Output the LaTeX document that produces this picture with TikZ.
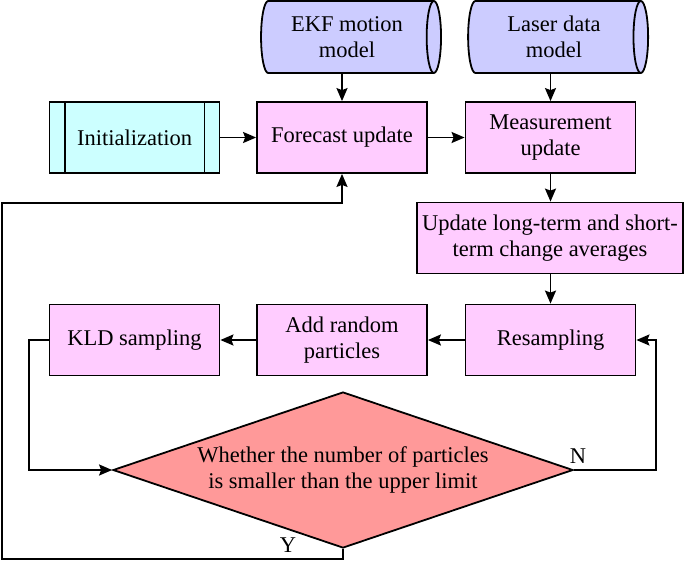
\documentclass[tikz,border=0pt]{standalone}
\usepackage{fontspec}
\setmainfont{Liberation Serif}
\usepackage{tikz}
\usetikzlibrary{arrows.meta,positioning,calc,shapes.geometric}
\definecolor{procpink}{HTML}{FFCCFF}
\definecolor{initcyan}{HTML}{CCFFFF}
\definecolor{dblue}{HTML}{CCCCFF}
\definecolor{decred}{HTML}{FF9999}
\tikzset{
  >={Stealth[length=13pt,width=11pt,inset=2pt]},
  proc/.style={rectangle,draw,fill=procpink,line width=1.8pt,minimum width=170pt,minimum height=71pt,align=center,inner sep=2pt},
  initbox/.style={proc,fill=initcyan},
  db/.style={cylinder,draw,fill=dblue,line width=1.8pt,shape aspect=0.35,minimum width=72pt,minimum height=180pt,align=center,inner sep=0pt},
  dec/.style={diamond,draw,fill=decred,line width=1.8pt,aspect=2.95,minimum width=460pt,minimum height=156pt,inner sep=0pt,align=center},
  tr/.style={->,line width=1.8pt}
}
\begin{document}
\begin{tikzpicture}[x=1pt,y=-1pt,every node/.style={font=\fontsize{22.5}{26}\selectfont}]
    \useasboundingbox (0,0) rectangle (685,560);

    % Data sources
    \node[db] (ekf) at (347,37) {EKF motion\\model};
    \node[db] (laser) at (554,37) {Laser data\\model};

    % Top row
    \node[initbox] (init) at (134.5,137.5) {Initialization};
    \draw[line width=1.8pt] ([xshift=16pt]init.north west) -- ([xshift=16pt]init.south west);
    \draw[line width=1.8pt] ([xshift=-16pt]init.north east) -- ([xshift=-16pt]init.south east);
    \node[proc] (fcast) at (342,137.5) {Forecast update};
    \node[proc] (meas) at (550.5,137.5) {Measurement\\update};

    % Update averages
    \node[proc,minimum width=266pt] (avg) at (550,238) {Update long-term and short-\\term change averages};

    % Middle row
    \node[proc] (resamp) at (550.5,340) {Resampling};
    \node[proc] (addrand) at (342,340) {Add random\\particles};
    \node[proc] (kld) at (134.5,340) {KLD sampling};

    % Decision
    \node[dec] (check) at (343,470) {Whether the number of particles\\is smaller than the upper limit};

    % Connections
    \draw[tr] (fcast.north |- ekf.south) -- (fcast.north);
    \draw[tr] (meas.north |- laser.south) -- (meas.north);
    \draw[tr] (init) -- (fcast);
    \draw[tr] (fcast) -- (meas);
    \draw[tr] (meas.south) -- (avg.north -| meas.south);
    \draw[tr] (avg.south -| resamp.north) -- (resamp.north);
    \draw[tr] (resamp) -- (addrand);
    \draw[tr] (addrand) -- (kld);
    \draw[tr] (kld.west) -- ++(-20,0) |- (check.west);
    \draw[tr] (check.east) -- ++(82,0) |- (resamp.east);
    \coordinate (loop) at (2,203);
    \draw[tr] (check.south) -- ++(0,10) -| (loop) -| (fcast.south);

    % Labels
    \node (nlbl) at (578,456) {N};
    \node (ylbl) at (288,545) {Y};
\end{tikzpicture}
\end{document}
